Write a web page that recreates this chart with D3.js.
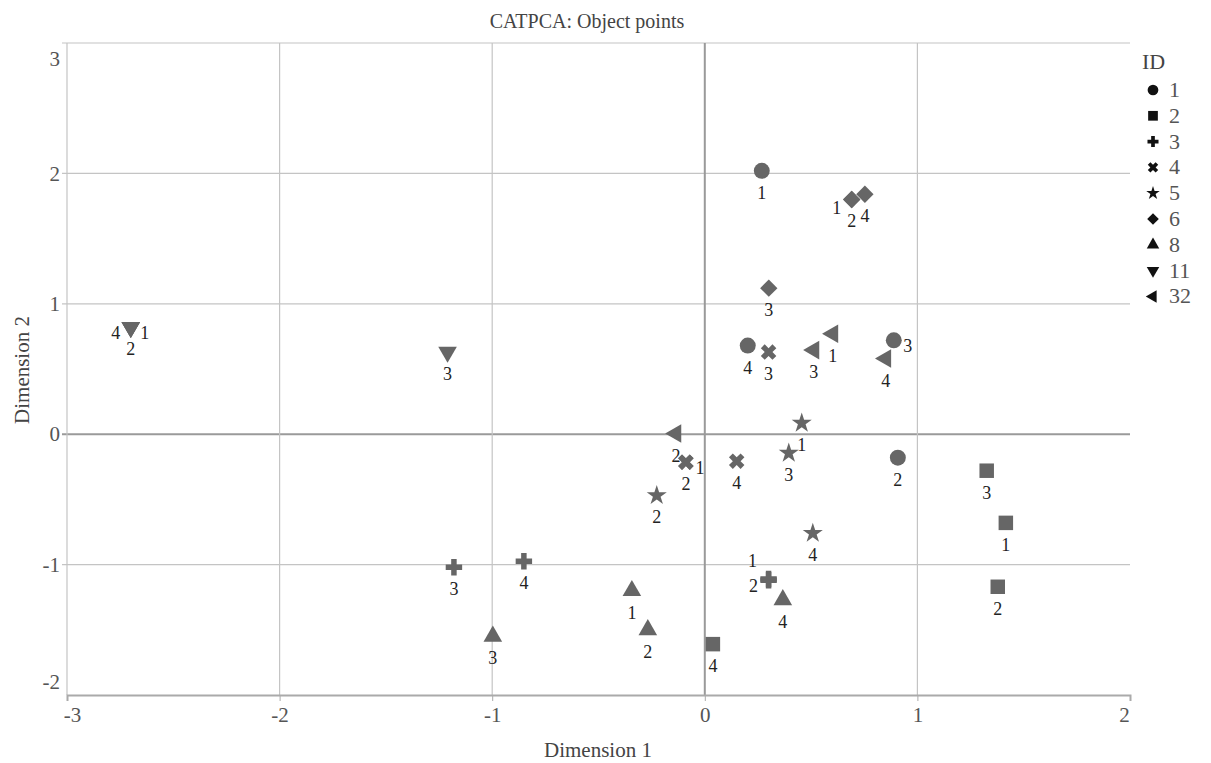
<!DOCTYPE html>
<html>
<head>
<meta charset="utf-8">
<script src="https://cdn.jsdelivr.net/npm/d3@7"></script>
<style>
  body { margin: 0; background: #fff; }
  text { font-family: "Liberation Serif", "DejaVu Serif", serif; }
</style>
</head>
<body>
<div id="chart"></div>
<script>
// legend categories
const ids = ["1", "2", "3", "4", "5", "6", "8", "11", "32"];

// object points: ID, period label, dim 1, dim 2, where the label sits
const pointId    = ["1","1","1","1", "2","2","2","2", "3","3","3","3", "4","4","4","4", "5","5","5","5", "6","6","6","6", "8","8","8","8", "11","11","11","11", "32","32","32","32"];
const pointLabel = ["1","3","4","2", "3","1","2","4", "3","4","1","2", "3","1","2","4", "1","3","2","4", "1","2","4","3", "3","1","2","4", "1","2","4","3", "1","3","4","2"];
const dim1 = [0.268, 0.889, 0.202, 0.908,  1.326, 1.416, 1.378, 0.038,  -1.18, -0.851, 0.30, 0.30,  0.30, -0.089, -0.089, 0.15,
              0.456, 0.395, -0.226, 0.508,  0.691, 0.691, 0.753, 0.301,  -0.997, -0.343, -0.268, 0.367,  -2.70, -2.70, -2.70, -1.21,
              0.602, 0.513, 0.851, -0.136];
const dim2 = [2.02, 0.72, 0.68, -0.18,  -0.28, -0.68, -1.17, -1.61,  -1.02, -0.975, -1.11, -1.12,  0.63, -0.215, -0.215, -0.207,
              0.085, -0.145, -0.47, -0.76,  1.80, 1.80, 1.84, 1.12,  -1.55, -1.20, -1.50, -1.27,  0.82, 0.82, 0.82, 0.63,
              0.77, 0.645, 0.58, 0.005];
const labelSide = ["below","right","below","below", "below","below","below","below", "below","below","upleft","left",
                   "below","right","below","below", "below","below","below","below", "lowleft","below","below","below",
                   "below","below","below","below", "right","below","left","below", "below","below","below","below"];

const xTicks = [-3, -2, -1, 0, 1, 2];
const yTicks = [-2, -1, 0, 1, 2, 3];

const W = 1211, H = 763;
const plot = { left: 67, right: 1130, top: 43, bottom: 695 };
const serif = '"Liberation Serif", "DejaVu Serif", serif';

const svg = d3.select("#chart").append("svg")
    .attr("width", W)
    .attr("height", H);

const x = d3.scaleLinear().domain([-3, 2]).range([plot.left, plot.right]);
const y = d3.scaleLinear().domain([-2, 3]).range([plot.bottom, plot.top]);

// grid
const grid = svg.append("g");
grid.selectAll(".hline")
    .data(yTicks.filter(d => d > -2))
    .enter().append("line")
    .attr("x1", plot.left - 5).attr("x2", plot.right)
    .attr("y1", d => y(d)).attr("y2", d => y(d))
    .style("stroke", d => d === 0 ? "#9a9a9a" : "#c4c4c4")
    .style("stroke-width", d => d === 0 ? 2 : 1.2);

grid.selectAll(".vline")
    .data(xTicks.filter(d => d < 2))
    .enter().append("line")
    .attr("x1", d => x(d)).attr("x2", d => x(d))
    .attr("y1", plot.top).attr("y2", plot.bottom)
    .style("stroke", d => d === 0 ? "#9a9a9a" : "#c4c4c4")
    .style("stroke-width", d => d === 0 ? 2 : 1.2);

// bottom axis
const xAxis = svg.append("g")
    .attr("transform", `translate(0,${plot.bottom})`)
    .attr("font-family", serif)
    .call(d3.axisBottom(x).tickValues(xTicks).tickSize(6).tickFormat(d => String(d)));
xAxis.select(".domain").style("stroke", "#aaa").style("stroke-width", 2);
xAxis.selectAll(".tick line").style("stroke", "#aaa");
xAxis.selectAll(".tick text")
    .style("font-family", serif)
    .style("font-size", "21px")
    .style("fill", "#555")
    .attr("y", 12)
    .attr("dx", d => d === -3 ? 5 : d === 2 ? -6 : 0);

// left axis labels (no line)
const yAxis = svg.append("g")
    .attr("transform", `translate(${plot.left},0)`)
    .call(d3.axisLeft(y).tickValues(yTicks).tickSize(0).tickPadding(7).tickFormat(d => String(d)));
yAxis.select(".domain").remove();
yAxis.selectAll(".tick text")
    .style("font-family", serif)
    .style("font-size", "21px")
    .style("fill", "#555")
    .attr("dy", d => d === 3 ? "1.05em" : d === -2 ? "-0.3em" : "0.32em");

// titles
svg.append("text")
    .attr("x", 587).attr("y", 28)
    .style("text-anchor", "middle")
    .style("font-size", "20px")
    .style("fill", "#444")
    .text("CATPCA: Object points");

svg.append("text")
    .attr("x", 598).attr("y", 757)
    .style("text-anchor", "middle")
    .style("font-size", "21px")
    .style("fill", "#444")
    .text("Dimension 1");

svg.append("text")
    .attr("transform", "translate(29,370) rotate(-90)")
    .style("text-anchor", "middle")
    .style("font-size", "21px")
    .style("fill", "#444")
    .text("Dimension 2");

// symbol shapes per ID
const shapeFor = {
    "1":  { type: d3.symbolCircle,   size: 200, rot: 0 },
    "2":  { type: d3.symbolSquare,   size: 210, rot: 0 },
    "3":  { type: d3.symbolCross,    size: 150, rot: 0 },
    "4":  { type: d3.symbolCross,    size: 150, rot: 45 },
    "5":  { type: d3.symbolStar,     size: 125, rot: 0 },
    "6":  { type: d3.symbolSquare,   size: 150, rot: 45 },
    "8":  { type: d3.symbolTriangle, size: 150, rot: 0 },
    "11": { type: d3.symbolTriangle, size: 150, rot: 180 },
    "32": { type: d3.symbolTriangle, size: 150, rot: -90 }
};
const labelOffset = {
    below:   [0, 28],
    right:   [14, 12],
    left:    [-15, 12],
    upleft:  [-16, -12],
    lowleft: [-15, 15]
};

const points = pointId.map((id, i) => ({
    id, label: pointLabel[i], x: dim1[i], y: dim2[i], side: labelSide[i]
}));

const pts = svg.append("g");
pts.selectAll("path")
    .data(points)
    .enter().append("path")
    .attr("d", d => d3.symbol().type(shapeFor[d.id].type).size(shapeFor[d.id].size)())
    .attr("transform", d => `translate(${x(d.x)},${y(d.y)}) rotate(${shapeFor[d.id].rot})`)
    .style("fill", "#666");

pts.selectAll("text")
    .data(points)
    .enter().append("text")
    .attr("x", d => x(d.x) + labelOffset[d.side][0])
    .attr("y", d => y(d.y) + labelOffset[d.side][1])
    .style("text-anchor", "middle")
    .style("font-size", "18px")
    .style("fill", "#222")
    .text(d => d.label);

// legend
const legend = svg.append("g").attr("transform", "translate(1142,0)");
legend.append("text")
    .attr("x", 0).attr("y", 69)
    .style("font-size", "22px")
    .style("fill", "#444")
    .text("ID");

const item = legend.selectAll(".item")
    .data(ids)
    .enter().append("g")
    .attr("transform", (d, i) => `translate(0,${90 + i * 25.8})`);
item.append("path")
    .attr("d", d => d3.symbol().type(shapeFor[d].type).size(shapeFor[d].size * 0.45)())
    .attr("transform", d => `translate(11,0) rotate(${shapeFor[d].rot})`)
    .style("fill", "#111");
item.append("text")
    .attr("x", 27).attr("y", 7)
    .style("font-size", "22px")
    .style("fill", "#555")
    .text(d => d);
</script>
</body>
</html>
